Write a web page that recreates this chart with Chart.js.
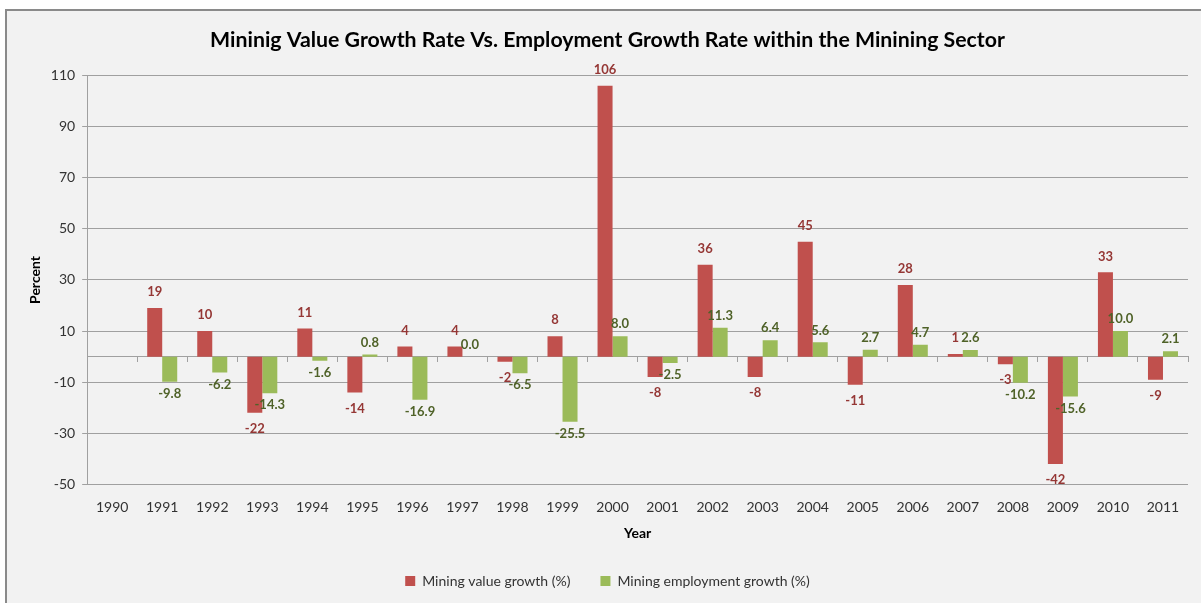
<!DOCTYPE html>
<html>
<head>
<meta charset="utf-8">
<script src="https://cdn.jsdelivr.net/npm/chart.js@4.4.1/dist/chart.umd.min.js"></script>
<style>
  html, body { margin: 0; padding: 0; background: #fff; }
  #frame {
    position: absolute; left: 5px; top: 9px;
    width: 1200px; height: 600px;
    background: #f2f2f2;
    border-left: 2px solid #8a8a8a; border-top: 2px solid #8a8a8a;
  }
  #wrap { position: absolute; left: 0; top: 0; width: 1194px; height: 594px; }
</style>
</head>
<body>
<div id="frame"><div id="wrap"><canvas id="chart"></canvas></div></div>
<script>
const years = ['1990','1991','1992','1993','1994','1995','1996','1997','1998','1999','2000',
  '2001','2002','2003','2004','2005','2006','2007','2008','2009','2010','2011'];
const valueGrowth = [null, 19, 10, -22, 11, -14, 4, 4, -2, 8, 106,
  -8, 36, -8, 45, -11, 28, 1, -3, -42, 33, -9];
const employmentGrowth = [null, -9.8, -6.2, -14.3, -1.6, 0.8, -16.9, 0.0, -6.5, -25.5, 8.0,
  -2.5, 11.3, 6.4, 5.6, 2.7, 4.7, 2.6, -10.2, -15.6, 10.0, 2.1];

const FONT = 'Lato, "Open Sans", sans-serif';

// value labels at the outside end of each bar
const barLabels = {
  id: 'barLabels',
  afterDatasetsDraw(chart) {
    const ctx = chart.ctx;
    ctx.save();
    ctx.textAlign = 'center';
    ctx.textBaseline = 'middle';
    chart.data.datasets.forEach((ds, i) => {
      const meta = chart.getDatasetMeta(i);
      meta.data.forEach((bar, j) => {
        const v = ds.data[j];
        if (v === null) return;
        const off = i === 0 ? 16 : 12;
        const y = v >= 0 ? bar.y - off : bar.y + off;
        ctx.font = 'bold 13px ' + FONT;
        ctx.fillStyle = i === 0 ? '#953735' : '#4f6228';
        ctx.fillText(i === 0 ? v.toFixed(0) : v.toFixed(1), bar.x, y);
      });
    });
    ctx.restore();
  }
};

new Chart(document.getElementById('chart'), {
  type: 'bar',
  data: {
    labels: years,
    datasets: [{
      label: 'Mining value growth (%)',
      data: valueGrowth,
      backgroundColor: '#c0504d'
    }, {
      label: 'Mining employment growth (%)',
      data: employmentGrowth,
      backgroundColor: '#9bbb59'
    }]
  },
  options: {
    responsive: true,
    maintainAspectRatio: false,
    animation: false,
    layout: { padding: { left: 20, right: 13, top: 8, bottom: 7 } },
    datasets: { bar: { categoryPercentage: 0.6, barPercentage: 1.0 } },
    plugins: {
      title: {
        display: true,
        text: 'Mininig Value Growth Rate Vs. Employment Growth Rate within the Minining Sector',
        color: '#000',
        font: { family: FONT, size: 21.3, weight: 'bold' },
        padding: { top: 8, bottom: 23 }
      },
      legend: {
        position: 'bottom',
        labels: {
          color: '#333',
          font: { family: FONT, size: 14 },
          boxWidth: 10, boxHeight: 10, padding: 30
        }
      },
      tooltip: { enabled: false }
    },
    scales: {
      x: {
        position: { y: 0 },
        ticks: { display: false },
        grid: { drawOnChartArea: false, tickLength: 5, color: '#a0a0a0', offset: true },
        border: { color: '#a0a0a0', width: 1 }
      },
      x2: {
        type: 'category',
        labels: years,
        position: 'bottom',
        offset: true,
        ticks: { color: '#333', font: { family: FONT, size: 14 }, padding: 7 },
        grid: { display: false },
        border: { display: false },
        title: {
          display: true, text: 'Year', color: '#000',
          font: { family: FONT, size: 14, weight: 'bold' }, padding: { top: 2, bottom: 2 }
        }
      },
      y: {
        min: -50, max: 110,
        ticks: { stepSize: 20, color: '#333', font: { family: FONT, size: 14 }, padding: 7 },
        grid: { color: '#a0a0a0', tickLength: 5 },
        border: { color: '#a0a0a0' },
        title: {
          display: true, text: 'Percent', color: '#000',
          font: { family: FONT, size: 14, weight: 'bold' }, padding: { top: 0, bottom: 0 }
        }
      }
    }
  },
  plugins: [barLabels]
});
</script>
</body>
</html>
